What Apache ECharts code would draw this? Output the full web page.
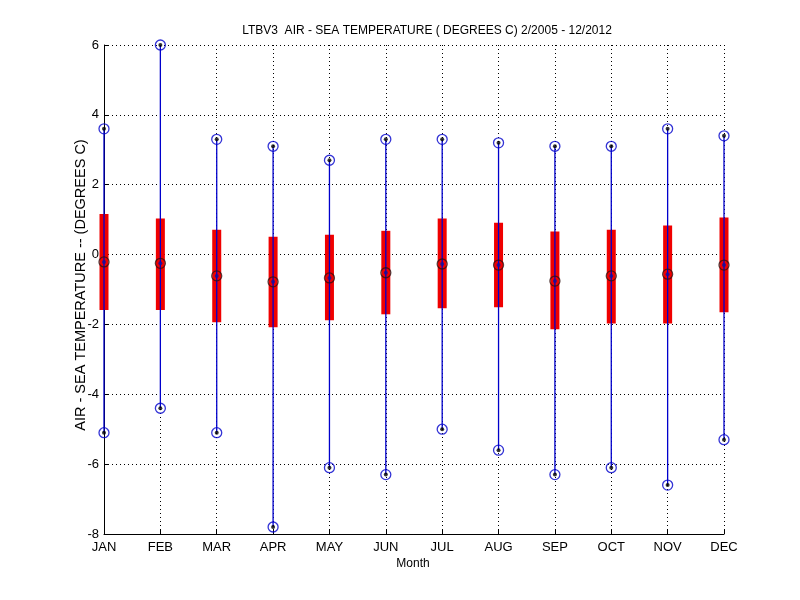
<!DOCTYPE html>
<html>
<head>
<meta charset="utf-8">
<script src="https://cdn.jsdelivr.net/npm/echarts@6/dist/echarts.min.js"></script>
<style>html,body{margin:0;padding:0;background:#fff;}#c{width:800px;height:600px;}</style>
</head>
<body>
<div id="c"></div>
<script>
const months = ['JAN','FEB','MAR','APR','MAY','JUN','JUL','AUG','SEP','OCT','NOV','DEC'];
const maxVals = [3.6, 6.0, 3.3, 3.1, 2.7, 3.3, 3.3, 3.2, 3.1, 3.1, 3.6, 3.4];
const minVals = [-5.1, -4.4, -5.1, -7.8, -6.1, -6.3, -5.0, -5.6, -6.3, -6.1, -6.6, -5.3];
const boxTop = [1.16, 1.03, 0.71, 0.51, 0.57, 0.68, 1.03, 0.91, 0.66, 0.71, 0.83, 1.06];
const boxBottom = [-1.59, -1.59, -1.94, -2.08, -1.88, -1.71, -1.54, -1.51, -2.14, -1.97, -1.97, -1.65];
const meanVals = [-0.21, -0.25, -0.61, -0.78, -0.67, -0.52, -0.27, -0.30, -0.76, -0.61, -0.56, -0.30];
const yTicks = [-8, -6, -4, -2, 0, 2, 4, 6];

const FONT = '"Liberation Sans", Arial, sans-serif';
const BLUE = '#0000cc';
const RED = '#f00000';

const boxData = months.map((m, i) => [i, boxBottom[i], boxTop[i]]);
const whiskerData = months.map((m, i) => [i, minVals[i], maxVals[i]]);
const endPts = [];
months.forEach((m, i) => { endPts.push([i, maxVals[i]]); endPts.push([i, minVals[i]]); });
const meanPts = months.map((m, i) => [i, meanVals[i]]);

const chart = echarts.init(document.getElementById('c'));
chart.setOption({
  animation: false,
  backgroundColor: '#fff',
  textStyle: { fontFamily: FONT },
  grid: { left: 104, right: 76, top: 45, bottom: 66 },
  graphic: [
    { type: 'text', x: 427, y: 31, style: { text: 'LTBV3  AIR - SEA TEMPERATURE ( DEGREES C) 2/2005 - 12/2012', fill: '#000', font: '12px ' + FONT, textAlign: 'center', textVerticalAlign: 'middle' } },
    { type: 'text', x: 81, y: 285, rotation: Math.PI / 2, style: { text: 'AIR - SEA TEMPERATURE -- (DEGREES C)', fill: '#000', font: '14.5px ' + FONT, textAlign: 'center', textVerticalAlign: 'middle' } },
    { type: 'text', x: 413, y: 564, style: { text: 'Month', fill: '#000', font: '12px ' + FONT, textAlign: 'center', textVerticalAlign: 'middle' } }
  ],
  xAxis: {
    type: 'category',
    data: months,
    boundaryGap: false,
    axisLine: { show: true, onZero: false, lineStyle: { color: '#000', width: 1 } },
    axisTick: { show: true, inside: true, length: 5, alignWithLabel: true, lineStyle: { color: '#000' } },
    axisLabel: { color: '#000', fontSize: 13, fontFamily: FONT, margin: 7, interval: 0 },
    splitLine: { show: true, interval: 0, lineStyle: { color: '#000', type: [1, 3], width: 1 } }
  },
  yAxis: {
    type: 'value',
    min: -8, max: 6, interval: 2,
    axisLine: { show: true, onZero: false, lineStyle: { color: '#000', width: 1 } },
    axisTick: { show: true, inside: true, length: 5, lineStyle: { color: '#000' } },
    axisLabel: { color: '#000', fontSize: 13, fontFamily: FONT, margin: 5, customValues: yTicks },
    splitLine: { show: true, lineStyle: { color: '#000', type: [1, 3], width: 1 } }
  },
  series: [
    {
      type: 'custom', name: 'box', data: boxData, encode: { x: 0, y: [1, 2] },
      renderItem: function (params, api) {
        const p1 = api.coord([api.value(0), api.value(1)]);
        const p2 = api.coord([api.value(0), api.value(2)]);
        return { type: 'rect', shape: { x: p1[0] - 4.5, y: p2[1], width: 9, height: p1[1] - p2[1] }, style: { fill: RED } };
      }
    },
    {
      type: 'custom', name: 'whisker', data: whiskerData, encode: { x: 0, y: [1, 2] },
      renderItem: function (params, api) {
        const p1 = api.coord([api.value(0), api.value(1)]);
        const p2 = api.coord([api.value(0), api.value(2)]);
        return { type: 'line', shape: { x1: p1[0], y1: p1[1], x2: p2[0], y2: p2[1] }, style: { stroke: BLUE, lineWidth: 1.3 } };
      }
    },
    { type: 'scatter', data: endPts, symbol: 'circle', symbolSize: 10, itemStyle: { color: 'rgba(0,0,0,0)', borderColor: BLUE, borderWidth: 1.3 }, silent: true },
    { type: 'scatter', data: endPts, symbol: 'circle', symbolSize: 4, itemStyle: { color: '#000' }, silent: true },
    { type: 'scatter', data: meanPts, symbol: 'circle', symbolSize: 10, itemStyle: { color: 'rgba(0,0,0,0)', borderColor: '#301010', borderWidth: 1.3 }, silent: true },
    { type: 'scatter', data: meanPts, symbol: 'circle', symbolSize: 4, itemStyle: { color: '#1010a0' }, silent: true }
  ]
});
</script>
</body>
</html>
